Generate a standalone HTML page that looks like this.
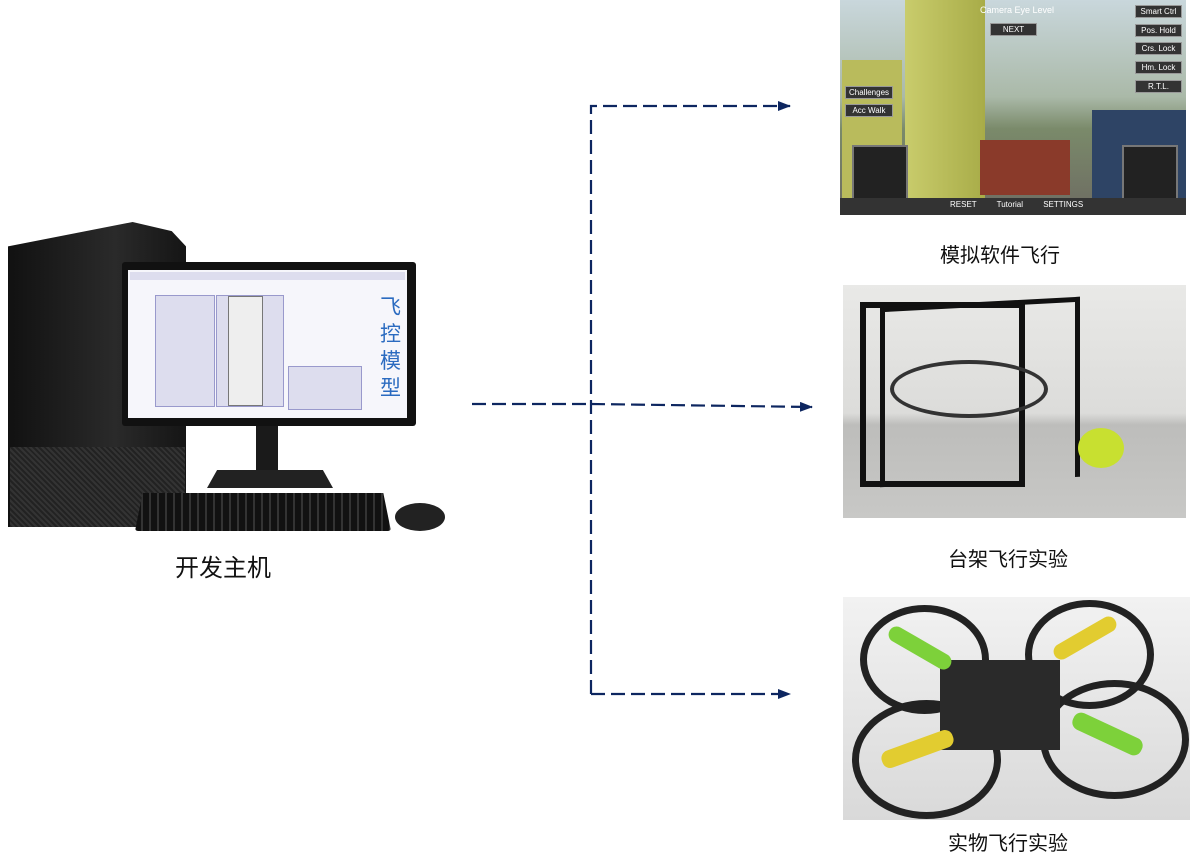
<!DOCTYPE html>
<html><head><meta charset="utf-8"><style>
body{margin:0;width:1191px;height:865px;background:#fff;position:relative;overflow:hidden;font-family:"Liberation Sans","Noto Sans CJK SC",sans-serif}
.a{position:absolute}
.lbl{position:absolute;font-size:20px;color:#111;white-space:nowrap}
.btn{position:absolute;background:#333;border:1px solid #999;color:#fff;font-size:8px;text-align:center;line-height:11px}
</style></head><body>

<!-- computer -->
<div class="a" style="left:8px;top:222px;width:178px;height:305px;background:linear-gradient(90deg,#111,#2a2a2a 60%,#151515);clip-path:polygon(0 8%,70% 0,92% 3%,100% 8%,100% 100%,0 100%)"></div>
<div class="a" style="left:10px;top:447px;width:175px;height:80px;background:repeating-linear-gradient(45deg,#222 0 2px,#333 2px 4px)"></div>
<div class="a" style="left:122px;top:262px;width:294px;height:164px;background:#111;border-radius:3px"></div>
<div class="a" style="left:128px;top:270px;width:279px;height:148px;background:#f6f6fb"></div>
<div class="a" style="left:130px;top:272px;width:275px;height:8px;background:#dde"></div>
<div class="a" style="left:155px;top:295px;width:58px;height:110px;background:#dde;border:1px solid #99c"></div>
<div class="a" style="left:216px;top:295px;width:66px;height:110px;background:#dde;border:1px solid #99c"></div>
<div class="a" style="left:228px;top:296px;width:33px;height:108px;background:#eee;border:1px solid #777"></div>
<div class="a" style="left:288px;top:366px;width:72px;height:42px;background:#dde;border:1px solid #99c"></div>
<div class="a" style="left:380px;top:294px;font-size:21px;line-height:27px;color:#2b6bc0;width:22px">飞控模型</div>
<div class="a" style="left:256px;top:426px;width:22px;height:50px;background:#1a1a1a"></div>
<div class="a" style="left:207px;top:470px;width:126px;height:18px;background:#222;clip-path:polygon(8% 0,92% 0,100% 100%,0 100%)"></div>
<div class="a" style="left:135px;top:493px;width:256px;height:38px;background:repeating-linear-gradient(90deg,#111 0 6px,#333 6px 8px);border-radius:3px;clip-path:polygon(3% 0,97% 0,100% 100%,0 100%)"></div>
<div class="a" style="left:395px;top:503px;width:50px;height:28px;background:#222;border-radius:50%"></div>
<div class="lbl" style="left:175px;top:548px;font-size:24px">开发主机</div>

<!-- connectors -->
<svg class="a" style="left:0;top:0" width="1191" height="865">
<defs><marker id="m" markerWidth="13" markerHeight="10" refX="12" refY="5" orient="auto" markerUnits="userSpaceOnUse"><path d="M0,0L13,5L0,10z" fill="#0d2660"/></marker></defs>
<g stroke="#0d2660" stroke-width="2.2" fill="none" stroke-dasharray="14,6">
<path d="M472,404L591,404"/>
<path d="M591,694L591,106L790,106" marker-end="url(#m)"/>
<path d="M591,404L812,407" marker-end="url(#m)"/>
<path d="M591,694L790,694" marker-end="url(#m)"/>
</g></svg>

<!-- sim image -->
<div class="a" style="left:840px;top:0;width:346px;height:215px;background:linear-gradient(#c9d7dc,#aab9a8 45%,#7a8a6a 60%,#6d6b62)"></div>
<div class="a" style="left:905px;top:0;width:80px;height:200px;background:linear-gradient(90deg,#c9cc6c,#a8ac48)"></div>
<div class="a" style="left:842px;top:60px;width:60px;height:140px;background:#b9bb5c"></div>
<div class="a" style="left:1092px;top:110px;width:94px;height:90px;background:#2e4465"></div>
<div class="a" style="left:980px;top:140px;width:90px;height:55px;background:#8a3a2a"></div>
<div class="a" style="left:852px;top:145px;width:52px;height:55px;background:#222;border:2px solid #777"></div>
<div class="a" style="left:1122px;top:145px;width:52px;height:55px;background:#222;border:2px solid #777"></div>
<div class="a" style="left:840px;top:198px;width:346px;height:17px;background:#333"></div>
<div class="a" style="left:980px;top:5px;color:#fff;font-size:9px">Camera Eye Level</div>
<div class="btn" style="left:990px;top:23px;width:45px">NEXT</div>
<div class="btn" style="left:1135px;top:5px;width:45px">Smart Ctrl</div>
<div class="btn" style="left:1135px;top:24px;width:45px">Pos. Hold</div>
<div class="btn" style="left:1135px;top:42px;width:45px">Crs. Lock</div>
<div class="btn" style="left:1135px;top:61px;width:45px">Hm. Lock</div>
<div class="btn" style="left:1135px;top:80px;width:45px">R.T.L.</div>
<div class="btn" style="left:845px;top:86px;width:46px">Challenges</div>
<div class="btn" style="left:845px;top:104px;width:46px">Acc Walk</div>
<div class="a" style="left:950px;top:200px;color:#fff;font-size:8px;word-spacing:18px">RESET Tutorial SETTINGS</div>
<div class="lbl" style="left:940px;top:239px">模拟软件飞行</div>

<!-- stand image -->
<div class="a" style="left:843px;top:285px;width:343px;height:233px;background:linear-gradient(#e9e9e7,#dcdcda 55%,#bdbdbb 60%,#c8c8c6)"></div>
<div class="a" style="left:860px;top:302px;width:165px;height:185px;border:6px solid #111;box-sizing:border-box"></div>
<div class="a" style="left:880px;top:302px;width:200px;height:180px;border:5px solid #111;box-sizing:border-box;transform:skewY(-3deg);border-bottom:none"></div>
<div class="a" style="left:890px;top:360px;width:150px;height:50px;border:4px solid #333;border-radius:50%"></div>
<div class="a" style="left:1078px;top:428px;width:46px;height:40px;background:#c8e030;border-radius:50%"></div>
<div class="lbl" style="left:948px;top:543px">台架飞行实验</div>

<!-- drone image -->
<div class="a" style="left:843px;top:597px;width:347px;height:223px;background:linear-gradient(#f2f2f2,#d9d9d9)"></div>
<div class="a" style="left:860px;top:605px;width:115px;height:95px;border:7px solid #222;border-radius:50%"></div>
<div class="a" style="left:1025px;top:600px;width:115px;height:95px;border:7px solid #222;border-radius:50%"></div>
<div class="a" style="left:852px;top:700px;width:135px;height:105px;border:7px solid #222;border-radius:50%"></div>
<div class="a" style="left:1040px;top:680px;width:135px;height:105px;border:7px solid #222;border-radius:50%"></div>
<div class="a" style="left:940px;top:660px;width:120px;height:90px;background:#2a2a2a"></div>
<div class="a" style="left:885px;top:640px;width:70px;height:16px;background:#7dd13a;border-radius:8px;transform:rotate(30deg)"></div>
<div class="a" style="left:1050px;top:630px;width:70px;height:16px;background:#e2cc30;border-radius:8px;transform:rotate(-30deg)"></div>
<div class="a" style="left:880px;top:740px;width:75px;height:18px;background:#e2cc30;border-radius:8px;transform:rotate(-20deg)"></div>
<div class="a" style="left:1070px;top:725px;width:75px;height:18px;background:#7dd13a;border-radius:8px;transform:rotate(25deg)"></div>
<div class="lbl" style="left:948px;top:827px">实物飞行实验</div>
</body></html>
